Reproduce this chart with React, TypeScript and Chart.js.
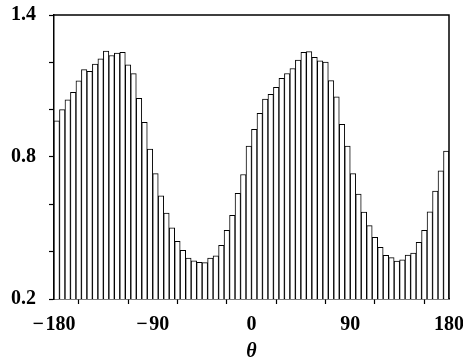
import React, { useEffect, useRef } from "react";
import { Chart, registerables } from "chart.js";

Chart.register(...registerables);

// Bin centres (degrees) for 5-degree bins from -180 to 180
const binCenters: number[] = [
  -177.5, -172.5, -167.5, -162.5, -157.5, -152.5, -147.5, -142.5, -137.5, -132.5, -127.5, -122.5,
  -117.5, -112.5, -107.5, -102.5, -97.5, -92.5, -87.5, -82.5, -77.5, -72.5, -67.5, -62.5,
  -57.5, -52.5, -47.5, -42.5, -37.5, -32.5, -27.5, -22.5, -17.5, -12.5, -7.5, -2.5,
  2.5, 7.5, 12.5, 17.5, 22.5, 27.5, 32.5, 37.5, 42.5, 47.5, 52.5, 57.5,
  62.5, 67.5, 72.5, 77.5, 82.5, 87.5, 92.5, 97.5, 102.5, 107.5, 112.5, 117.5,
  122.5, 127.5, 132.5, 137.5, 142.5, 147.5, 152.5, 157.5, 162.5, 167.5, 172.5, 177.5,
];

const binValues: number[] = [
  0.953, 1.0, 1.042, 1.073, 1.122, 1.169, 1.162, 1.193, 1.215, 1.248, 1.229, 1.239,
  1.242, 1.189, 1.152, 1.048, 0.947, 0.833, 0.73, 0.636, 0.563, 0.501, 0.444, 0.406,
  0.373, 0.361, 0.355, 0.354, 0.373, 0.382, 0.427, 0.49, 0.554, 0.647, 0.726, 0.846,
  0.917, 0.985, 1.045, 1.065, 1.094, 1.132, 1.153, 1.174, 1.209, 1.242, 1.245, 1.221,
  1.206, 1.201, 1.123, 1.054, 0.938, 0.846, 0.73, 0.643, 0.567, 0.51, 0.461, 0.418,
  0.385, 0.375, 0.36, 0.366, 0.386, 0.394, 0.439, 0.49, 0.568, 0.656, 0.742, 0.825,
];

const xLabeledTicks: number[] = [-180, -90, 0, 90, 180];
const yLabeledTicks: number[] = [0.2, 0.8, 1.4];

const FONT = "'Liberation Serif', 'Times New Roman', serif";

export default function App() {
  const canvasRef = useRef<HTMLCanvasElement | null>(null);

  useEffect(() => {
    document.body.style.margin = "0";
    const canvas = canvasRef.current;
    if (!canvas) return;

    const boxPlugin = {
      id: "boxPlugin",
      afterDraw(chart: any) {
        const { ctx, chartArea } = chart;
        ctx.save();
        ctx.strokeStyle = "#000";
        ctx.lineWidth = 1.5;
        ctx.beginPath();
        ctx.moveTo(chartArea.left, chartArea.top);
        ctx.lineTo(chartArea.right, chartArea.top);
        ctx.lineTo(chartArea.right, chartArea.bottom);
        ctx.stroke();
        ctx.restore();
      },
    };

    const chart = new Chart(canvas, {
      type: "bar",
      data: {
        datasets: [
          {
            data: binCenters.map((x, i) => ({ x, y: binValues[i] })),
            backgroundColor: "#ffffff",
            borderColor: "#000000",
            borderWidth: 1,
            barPercentage: 1,
            categoryPercentage: 1,
          },
        ],
      },
      options: {
        animation: false,
        responsive: false,
        maintainAspectRatio: false,
        layout: { padding: { left: 0, top: 15, right: 14, bottom: 0 } },
        plugins: {
          legend: { display: false },
          tooltip: { enabled: false },
        },
        scales: {
          x: {
            type: "linear",
            min: -180,
            max: 180,
            offset: false,
            afterFit(scale: any) {
              scale.height = 65;
              scale.paddingLeft = 0;
              scale.paddingRight = 0;
            },
            ticks: {
              stepSize: 45,
              autoSkip: false,
              maxRotation: 0,
              padding: 9,
              color: "#000",
              font: { family: FONT, size: 20, weight: "bold" },
              callback: (v: any) => {
                const n = Number(v);
                if (!xLabeledTicks.includes(n)) return "";
                return n < 0 ? "\u2212\u200A" + Math.abs(n) : String(n);
              },
            },
            grid: {
              drawOnChartArea: false,
              drawTicks: true,
              tickLength: 5,
              tickWidth: 1.2,
              tickColor: "#000",
            },
            border: { display: true, color: "#000", width: 1.5 },
            title: {
              display: true,
              text: "\u03B8",
              color: "#000",
              font: { family: FONT, size: 20, weight: "bold", style: "italic" },
              padding: { top: 0, bottom: 0 },
            },
          },
          y: {
            type: "linear",
            min: 0.2,
            max: 1.4,
            afterFit(scale: any) {
              scale.width = 54;
              scale.paddingTop = 0;
              scale.paddingBottom = 0;
            },
            ticks: {
              stepSize: 0.2,
              padding: 13,
              color: "#000",
              font: { family: FONT, size: 20, weight: "bold" },
              callback: (v: any) => {
                const n = Number(v);
                const hit = yLabeledTicks.find((t) => Math.abs(t - n) < 1e-6);
                return hit !== undefined ? hit.toFixed(1) : "";
              },
            },
            grid: {
              drawOnChartArea: false,
              drawTicks: true,
              tickLength: 5,
              tickWidth: 1.2,
              tickColor: "#000",
            },
            border: { display: true, color: "#000", width: 1.5 },
          },
        },
      },
      plugins: [boxPlugin],
    });

    return () => {
      chart.destroy();
    };
  }, []);

  return (
    <div style={{ position: "absolute", left: 0, top: 0, width: 463, height: 364 }}>
      <canvas ref={canvasRef} width={463} height={364} style={{ width: 463, height: 364 }} />
    </div>
  );
}
